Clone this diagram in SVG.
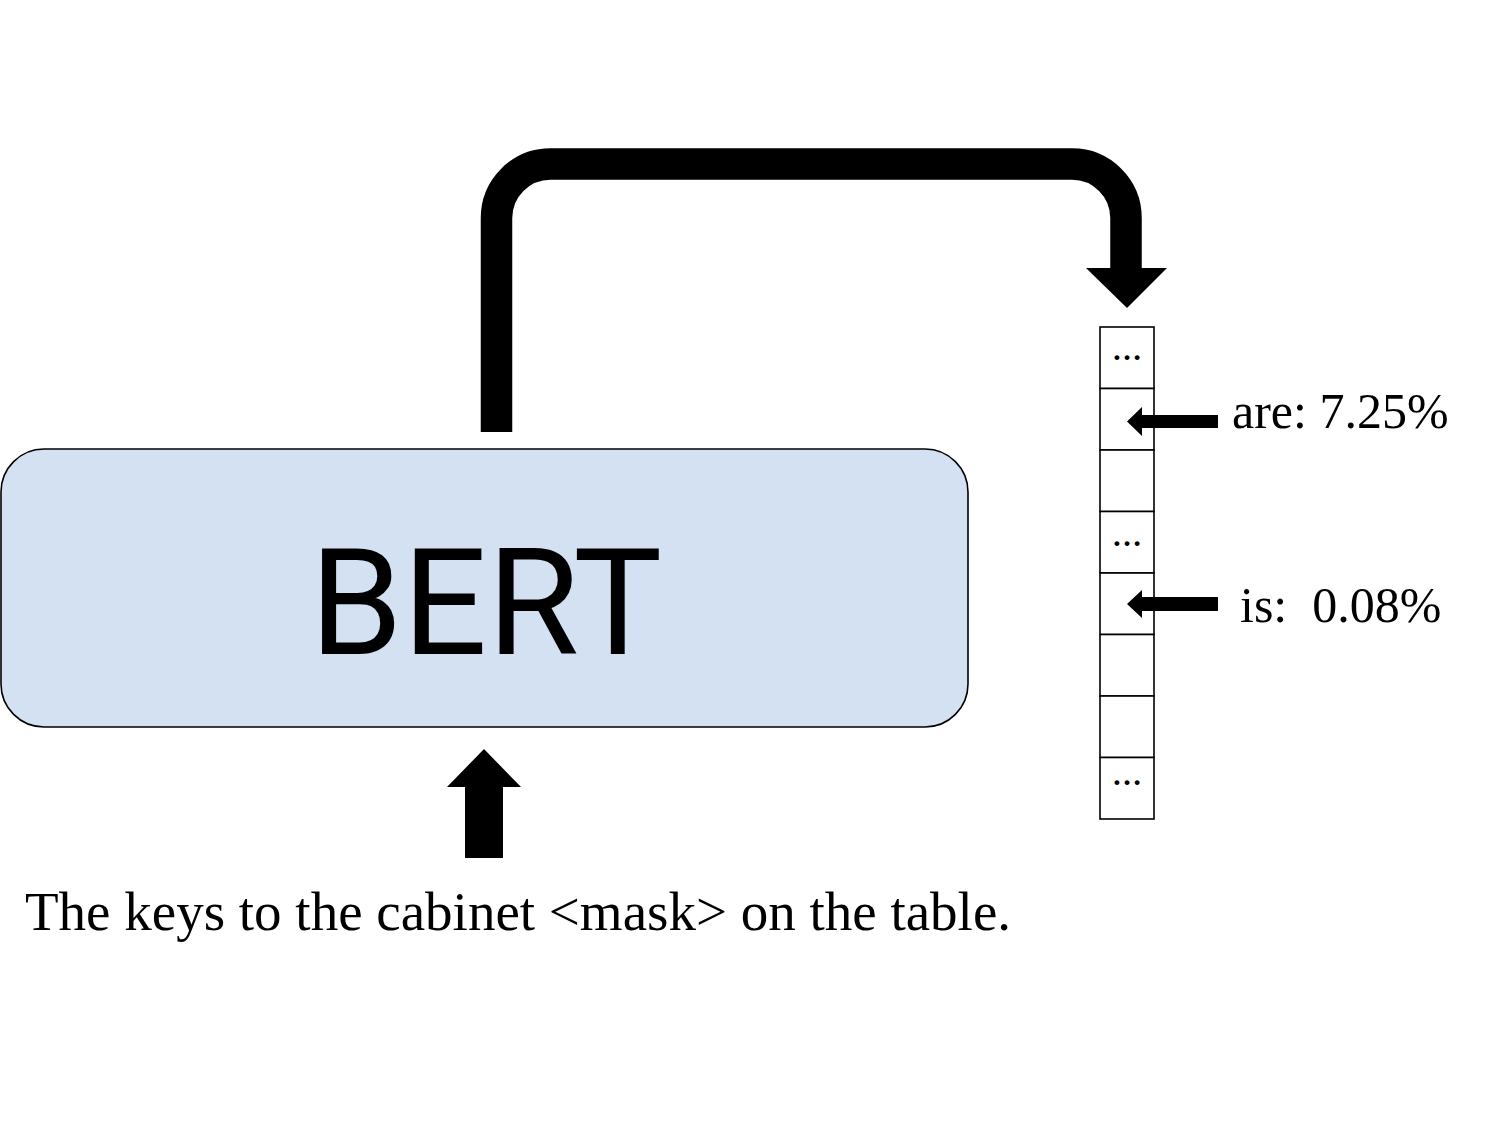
<svg xmlns="http://www.w3.org/2000/svg" width="1500" height="1125" viewBox="0 0 1500 1125">
<style>
.serif{font-family:"Liberation Serif","Times New Roman",serif;fill:#000}
.cell{fill:#fff;stroke:#000;stroke-width:1.6}
.dots{font-family:"Liberation Serif",serif;font-size:30px;font-weight:bold;text-anchor:middle;fill:#000}
.blk{fill:#000;stroke:none}
</style>
<rect width="1500" height="1125" fill="#fff"/>
<g id="bert">
<rect x="1" y="449" width="967" height="278" rx="43" ry="43" fill="#d4e1f2" stroke="#000" stroke-width="1.6"/>
<text x="486" y="654" font-family="Roboto,'Open Sans',sans-serif" font-size="149" text-anchor="middle" fill="#000">BERT</text>
</g>
<g id="vector">
<rect class="cell" x="1100" y="327" width="54" height="61.5"/>
<rect class="cell" x="1100" y="388.5" width="54" height="61.5"/>
<rect class="cell" x="1100" y="450" width="54" height="61.5"/>
<rect class="cell" x="1100" y="511.5" width="54" height="61.5"/>
<rect class="cell" x="1100" y="573" width="54" height="61.5"/>
<rect class="cell" x="1100" y="634.5" width="54" height="61.5"/>
<rect class="cell" x="1100" y="696" width="54" height="61.5"/>
<rect class="cell" x="1100" y="757.5" width="54" height="61.5"/>
<text class="dots" x="1127" y="360">…</text>
<text class="dots" x="1127" y="546">…</text>
<text class="dots" x="1127" y="785">…</text>
</g>
<g id="label-are">
<text class="serif" x="1232" y="428" font-size="50">are: 7.25%</text>
</g>
<g id="label-is">
<text class="serif" x="1240" y="622" font-size="50" xml:space="preserve" style="white-space:pre">is:  0.08%</text>
</g>
<g id="sentence">
<text class="serif" x="25" y="930" font-size="55">The keys to the cabinet &lt;mask&gt; on the table.</text>
</g>
<g id="connectors">
<path d="M 496.5 432 V 218 A 54 54 0 0 1 550.5 164 H 1072 A 54 54 0 0 1 1126 218 V 270" fill="none" stroke="#000" stroke-width="31.5"/>
<polygon class="blk" points="1086,268 1167,268 1127,308"/>
<polygon class="blk" points="465,858 503,858 503,787 521,787 484,749 447,787 465,787"/>
<polygon class="blk" points="1218,415 1142,415 1142,407 1127,421.5 1142,436 1142,428 1218,428"/>
<polygon class="blk" points="1218,597 1142,597 1142,590 1127,604 1142,618 1142,611 1218,611"/>
</g>
</svg>
